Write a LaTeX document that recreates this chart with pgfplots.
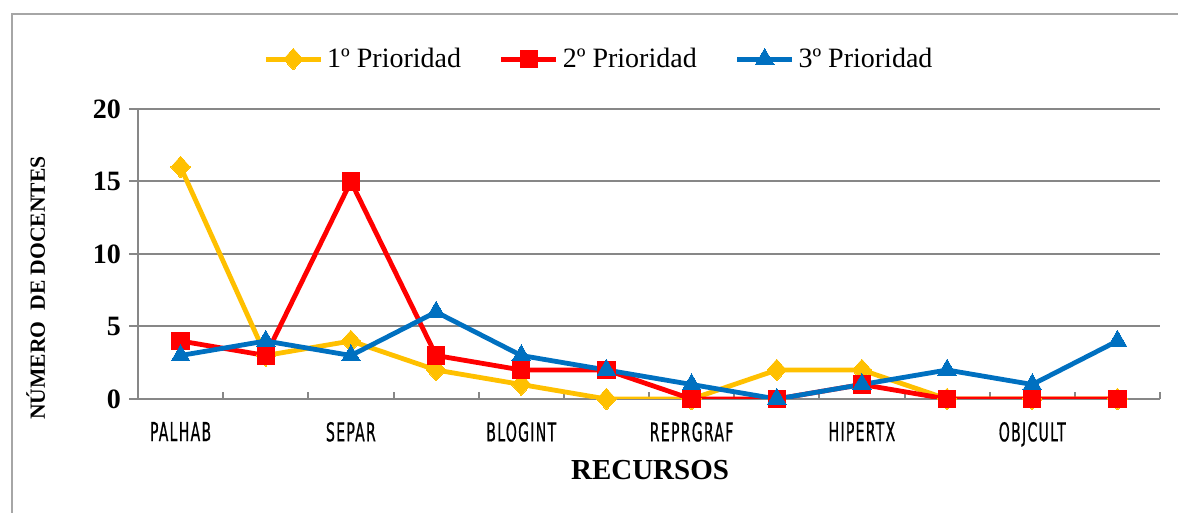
\documentclass[border=0pt]{standalone}
\usepackage{pgfplots}
\pgfplotsset{compat=1.18}
\usepackage{fontspec}
\setmainfont{Liberation Serif}
\newfontfamily\catfont[FakeStretch=0.6,LetterSpace=5,FakeBold=0.6]{DejaVu Sans Condensed}

\definecolor{cyel}{HTML}{FFC000}
\definecolor{cred}{HTML}{FF0000}
\definecolor{cblu}{HTML}{0070C0}
\definecolor{cgr}{HTML}{878787}

\begin{document}
\begin{tikzpicture}
  % page = 1178 x 513 px, 1 px = 0.5 pt, axis box at px (138..1160, 109..399)
  \useasboundingbox (-69pt,-57pt) rectangle (520pt,199.5pt);
  \clip (-69pt,-57pt) rectangle (520pt,199.5pt);
  \draw[draw=black!35, line width=1pt] (-63pt,192.5pt) rectangle (540pt,-80pt);
  \begin{axis}[
      at={(0,0)}, anchor=south west,
      scale only axis,
      width=511pt, height=145pt,
      xmin=0.5, xmax=12.5,
      ymin=0, ymax=20,
      axis x line*=bottom,
      axis y line*=left,
      axis line style={cgr, line width=1pt},
      ymajorgrids,
      grid style={cgr, line width=1pt},
      ytick={0,5,10,15,20},
      xtick={1,3,5,7,9,11},
      xticklabels={PALHAB,SEPAR,BLOGINT,REPRGRAF,HIPERTX,OBJCULT},
      minor xtick={0.5,1.5,...,12.5},
      tick align=inside,
      major tick length=-4.5pt,
      major x tick style={draw=none},
      minor tick length=3.5pt,
      minor tick style={cgr, line width=1pt},
      major tick style={cgr, line width=1pt},
      /pgf/number format/assume math mode=true,
      yticklabel style={font=\bfseries\fontsize{14}{15}\selectfont, xshift=-5pt},
      xticklabel style={font=\catfont\fontsize{13}{14}\selectfont, yshift=-8pt},
      xlabel={RECURSOS},
      xlabel style={font=\bfseries\fontsize{14.5}{16}\selectfont, at={(axis description cs:0.501,-0.245)}, anchor=center},
      ylabel={NÚMERO\ \ DE DOCENTES},
      ylabel style={font=\bfseries\fontsize{10.8}{12}\selectfont, at={(axis description cs:-0.1,0.383)}, anchor=center, rotate=0},
      legend columns=3,
      legend style={draw=none, fill=none, font=\fontsize{14}{15}\selectfont,
        at={(axis description cs:0.452,1.172)}, anchor=center,
        /tikz/every even column/.append style={column sep=17pt},
        inner sep=0pt},
      legend image code/.code={%
        \draw[mark repeat=2,mark phase=2,#1] plot coordinates {(0pt,0pt) (13.75pt,0pt) (27.5pt,0pt)};},
      every axis plot/.append style={line width=2.4pt},
    ]
    \addplot[cyel, mark=diamond*, mark size=5.4pt, mark options={solid, fill=cyel, line width=0pt, xscale=1.2}] coordinates {
      (1,16) (2,3) (3,4) (4,2) (5,1) (6,0) (7,0) (8,2) (9,2) (10,0) (11,0) (12,0)
    };
    \addlegendentry{1º Prioridad}
    \addplot[cred, mark=square*, mark size=4.3pt, mark options={solid, fill=cred, line width=0pt}] coordinates {
      (1,4) (2,3) (3,15) (4,3) (5,2) (6,2) (7,0) (8,0) (9,1) (10,0) (11,0) (12,0)
    };
    \addlegendentry{2º Prioridad}
    \addplot[cblu, mark=triangle*, mark size=5.4pt, mark options={solid, fill=cblu, line width=0pt}] coordinates {
      (1,3) (2,4) (3,3) (4,6) (5,3) (6,2) (7,1) (8,0) (9,1) (10,2) (11,1) (12,4)
    };
    \addlegendentry{3º Prioridad}
  \end{axis}
\end{tikzpicture}
\end{document}
